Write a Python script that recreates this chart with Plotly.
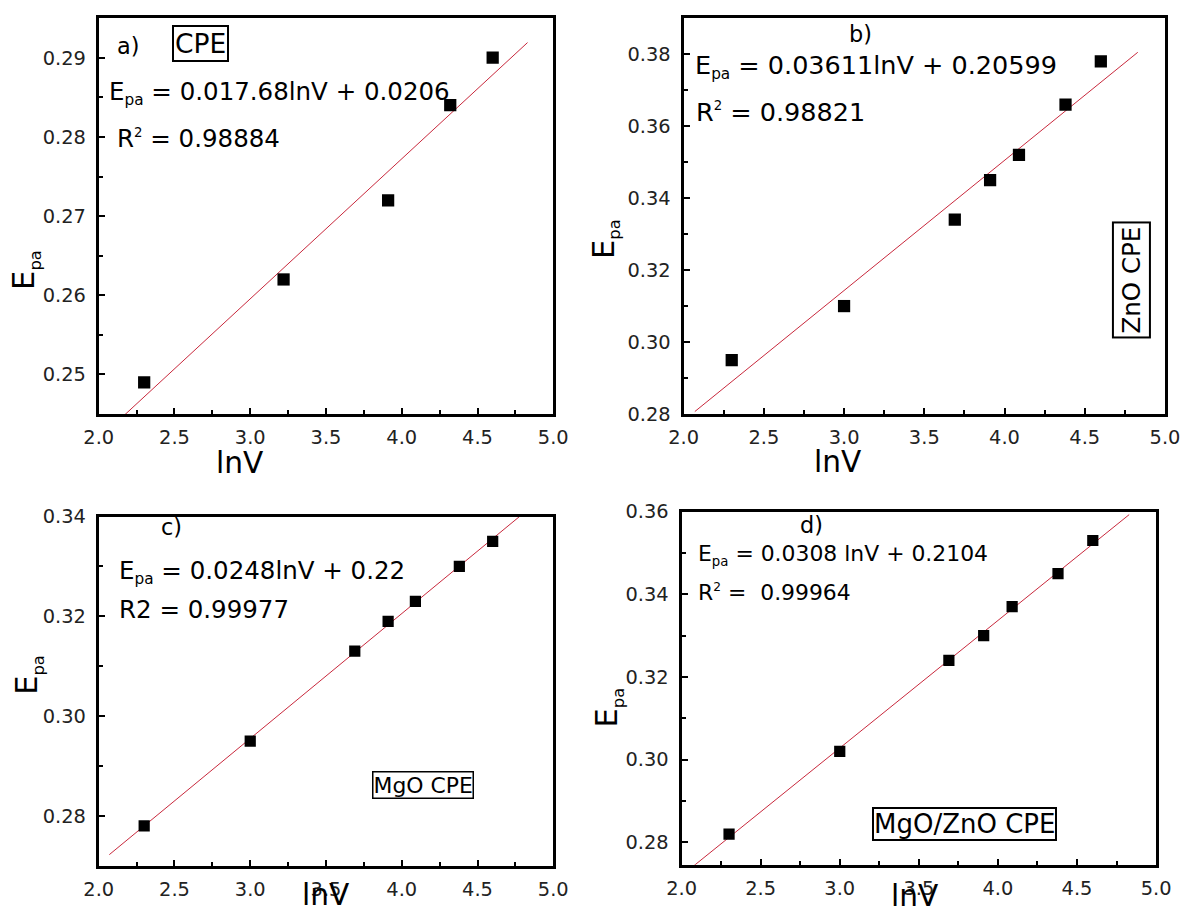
import numpy as np
import plotly.graph_objects as go

# ---------------- data ----------------
lnv_a = [2.30, 3.22, 3.91, 4.32, 4.60]
epa_a = [0.249, 0.262, 0.272, 0.284, 0.290]

lnv_b = [2.30, 3.00, 3.69, 3.91, 4.09, 4.38, 4.60]
epa_b = [0.295, 0.310, 0.334, 0.345, 0.352, 0.366, 0.378]

lnv_c = [2.30, 3.00, 3.69, 3.91, 4.09, 4.38, 4.60]
epa_c = [0.278, 0.295, 0.313, 0.319, 0.323, 0.330, 0.335]

lnv_d = [2.30, 3.00, 3.69, 3.91, 4.09, 4.38, 4.60]
epa_d = [0.282, 0.302, 0.324, 0.330, 0.337, 0.345, 0.353]

fit_range = [2.07, 4.83]          # x-extent of the linear fits

x_ticks = [2.0, 2.5, 3.0, 3.5, 4.0, 4.5, 5.0]
y_range_a = [0.245, 0.295]
y_range_b = [0.28, 0.39]
y_range_c = [0.27, 0.34]
y_range_d = [0.2746, 0.36]

labels = ["a)", "b)", "c)", "d)"]
eq_texts = ["E{sub} = 0.017.68lnV + 0.0206",
            "E{sub} = 0.03611lnV + 0.20599",
            "E{sub} = 0.0248lnV + 0.22",
            "E{sub} = 0.0308 lnV + 0.2104"]
r2_texts = ["R{sup} = 0.98884",
            "R{sup} = 0.98821",
            "R2 = 0.99977",
            "R{sup} =  0.99964"]
electrodes = ["CPE", "ZnO CPE", "MgO CPE", "MgO/ZnO CPE"]
x_title = "lnV"

# ---------------- layout helpers ----------------
# The photographed page shows CSS pixels at ~0.98 scale and the body keeps
# its default 8px margin; target picture pixels are converted accordingly.
SCALE = 0.98
BODY = 8
W = int(round(1182 / SCALE)) - 2 * BODY
H = int(round(915 / SCALE)) - 2 * BODY
K = 1 / SCALE
FONT = "DejaVu Sans"
LINE_RED = "#c8283c"


def px(x):
    return (x / SCALE - BODY) / W


def py(y):
    return 1 - (y / SCALE - BODY) / H


def fs(size):
    return round(size * K, 1)


def sub_pa(size):
    return "<sub><span style='font-size:%spx'>pa</span></sub>" % fs(size)


def sup_2(size):
    return "<sup><span style='font-size:%spx'>2</span></sup>" % fs(size)


fig = go.Figure()

panels = [
    dict(x=lnv_a, y=epa_a, box=(92, 549, 15, 413), yr=y_range_a, dy=0.01, msize=12),
    dict(x=lnv_b, y=epa_b, box=(680, 1164, 15, 413), yr=y_range_b, dy=0.02, msize=12),
    dict(x=lnv_c, y=epa_c, box=(92, 549, 516, 867), yr=y_range_c, dy=0.02, msize=11),
    dict(x=lnv_d, y=epa_d, box=(678, 1155, 511, 866), yr=y_range_d, dy=0.02, msize=11),
]

axis_common = dict(
    showline=True, linecolor="black", linewidth=3, mirror=True,
    ticks="inside", ticklen=6, tickwidth=2, tickcolor="black",
    showgrid=False, zeroline=False,
    tickfont=dict(family=FONT, size=fs(19), color="#222"),
)

for i, p in enumerate(panels):
    n = "" if i == 0 else str(i + 1)
    xa, ya = "x" + n, "y" + n
    slope, icpt = np.polyfit(p["x"], p["y"], 1)
    fx = np.array(fit_range)
    fig.add_trace(go.Scatter(x=fx, y=slope * fx + icpt, mode="lines",
                             line=dict(color=LINE_RED, width=1),
                             xaxis=xa, yaxis=ya, showlegend=False, hoverinfo="skip"))
    fig.add_trace(go.Scatter(x=p["x"], y=p["y"], mode="markers",
                             marker=dict(symbol="square", size=p["msize"] * K, color="black",
                                         line=dict(width=0)),
                             xaxis=xa, yaxis=ya, showlegend=False))
    l, r, t, b = p["box"]
    fig.update_layout({
        "xaxis" + n: dict(axis_common, domain=[px(l), px(r)], anchor=ya, range=[2.0, 5.0],
                          tickvals=x_ticks, tickformat=".1f", ticklabelstandoff=4,
                          minor=dict(ticks="inside", ticklen=4, tickwidth=2, tickcolor="black",
                                     dtick=0.25, tick0=2.0)),
        "yaxis" + n: dict(axis_common, domain=[py(b), py(t)], anchor=xa, range=p["yr"],
                          dtick=p["dy"], tick0=0, tickformat=".2f", ticklabelstandoff=6,
                          minor=dict(ticks="inside", ticklen=4, tickwidth=2, tickcolor="black",
                                     dtick=p["dy"] / 2, tick0=0)),
    })

annotations = []


def ann(text, x, y, size, xanchor="left", yanchor="middle", **kw):
    d = dict(text=text, x=px(x), y=py(y), xref="paper", yref="paper", showarrow=False,
             xanchor=xanchor, yanchor=yanchor,
             font=dict(family=FONT, size=fs(size), color="black"))
    d.update(kw)
    annotations.append(d)


# panel labels
ann(labels[0], 108, 43, 22)
ann(labels[1], 844, 31, 22)
ann(labels[2], 153, 527, 22)
ann(labels[3], 795, 525, 22)

# equations
ann(eq_texts[0].format(sub=sub_pa(15)), 100, 90, 24)
ann(r2_texts[0].format(sup=sup_2(13)), 108, 136, 24)
ann(eq_texts[1].format(sub=sub_pa(15)), 689, 64, 25)
ann(r2_texts[1].format(sup=sup_2(13)), 690, 109, 25)
ann(eq_texts[2].format(sub=sub_pa(15)), 110, 572, 24)
ann(r2_texts[2], 110, 609, 24)
ann(eq_texts[3].format(sub=sub_pa(13)), 692, 555, 21.5)
ann(r2_texts[3].format(sup=sup_2(12)), 692, 592, 21.5)

# electrode boxes
ann(electrodes[0], 194, 40.5, 26, xanchor="center", borderpad=1,
    bordercolor="black", borderwidth=2, bgcolor="white")
ann(electrodes[1], 1130, 278.5, 24, xanchor="center", textangle=-90, borderpad=3,
    bordercolor="black", borderwidth=2, bgcolor="white")
ann(electrodes[2], 418, 785.5, 21.5, xanchor="center", borderpad=0,
    bordercolor="black", borderwidth=1.5, bgcolor="white")
ann(electrodes[3], 962, 825.5, 25.5, xanchor="center", borderpad=0,
    bordercolor="black", borderwidth=2, bgcolor="white")

# axis titles
ann(x_title, 234, 462, 29, xanchor="center")
ann(x_title, 835, 461, 29, xanchor="center")
ann(x_title, 320, 896, 29, xanchor="center")
ann(x_title, 912, 897, 29, xanchor="center")
ann("E" + sub_pa(16), 18, 268, 30, xanchor="center", textangle=-90)
ann("E" + sub_pa(16), 601, 237, 30, xanchor="center", textangle=-90)
ann("E" + sub_pa(16), 21, 675, 30, xanchor="center", textangle=-90)
ann("E" + sub_pa(16), 604, 708, 30, xanchor="center", textangle=-90)

fig.update_layout(width=W, height=H, margin=dict(l=0, r=0, t=0, b=0),
                  paper_bgcolor="white", plot_bgcolor="white",
                  annotations=annotations, showlegend=False)

fig.write_html("out.html")
